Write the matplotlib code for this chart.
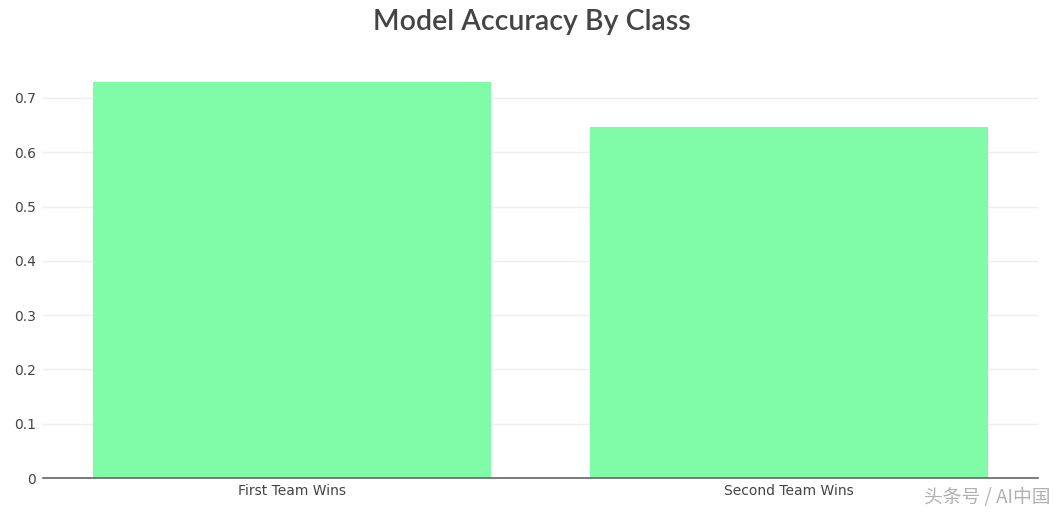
import matplotlib.pyplot as plt
import numpy as np

# data
classes = ["First Team Wins", "Second Team Wins"]
accuracy = [0.729, 0.647]
yticks = [0, 0.1, 0.2, 0.3, 0.4, 0.5, 0.6, 0.7]

fig = plt.figure(figsize=(10.63, 5.14), dpi=100)
ax = fig.add_axes([43 / 1063, 1 - 478 / 514, (1038 - 43) / 1063, (478 - 58) / 514])

x = np.arange(len(classes))
ax.bar(x, accuracy, width=0.8, color="#80fca9", zorder=2)

ax.set_xlim(-0.5, 1.5)
ax.set_ylim(0, 0.7735)
ax.set_yticks(yticks)
ax.set_yticklabels(["0" if t == 0 else f"{t:.1f}" for t in yticks])
ax.set_xticks(x)
ax.set_xticklabels(classes)

ax.grid(axis="y", color="#eeeeee", linewidth=1, zorder=0)
ax.tick_params(axis="both", length=0, labelsize=10, labelcolor="#444444")
ax.tick_params(axis="y", pad=5)
ax.tick_params(axis="x", pad=4)
for s in ["top", "right", "left"]:
    ax.spines[s].set_visible(False)
ax.spines["bottom"].set_color("#666666")
ax.spines["bottom"].set_linewidth(1.2)
ax.spines["bottom"].set_zorder(3)

fig.text(0.5, 1 - 22 / 514, "Model Accuracy By Class", ha="center", va="center",
         fontsize=20.5, color="#444444", family="Lato", fontweight="semibold")

fig.text(1050 / 1063, 1 - 497 / 514, "头条号 / AI中国", ha="right", va="center",
         fontsize=13.5, color="#b0b0b0", family=["Noto Sans CJK SC", "DejaVu Sans"])

fig.savefig("out.png", dpi=100)
